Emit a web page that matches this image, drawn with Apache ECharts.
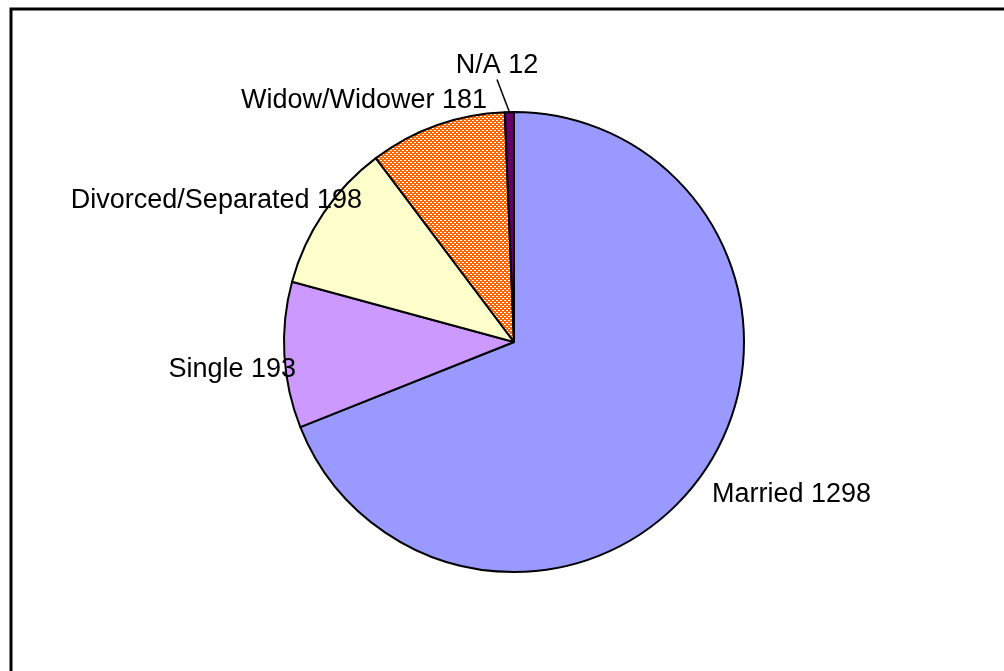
<!DOCTYPE html>
<html><head><meta charset="utf-8">
<script src="https://cdn.jsdelivr.net/npm/echarts@6/dist/echarts.min.js"></script>
<style>html,body{margin:0;padding:0;background:#fff;}#c{width:1004px;height:671px;}</style>
</head><body><div id="c"></div>
<script>
const categories = ["Married", "Single", "Divorced/Separated", "Widow/Widower", "N/A"];
const values = [1298, 193, 198, 181, 12];
const colors = ["#9999FF", "#CC99FF", "#FFFFCC", "pattern", "#660066"];
// label anchor positions (x, middle y) in pixels
const labelPos = [[712, 495, 'left'], [296, 370, 'right'], [362, 201, 'right'], [487, 101, 'right'], [497, 66, 'center']];

const tile = document.createElement('canvas');
tile.width = 4; tile.height = 4;
const tc = tile.getContext('2d');
tc.fillStyle = '#FF6600'; tc.fillRect(0, 0, 4, 4);
tc.fillStyle = '#FFFFFF';
tc.fillRect(0, 0, 1, 1); tc.fillRect(2, 2, 1, 1); tc.fillRect(1, 0, 1, 1); tc.fillRect(3, 2, 1, 1);

const chart = echarts.init(document.getElementById('c'));
const data = categories.map((n, i) => ({
  name: n, value: values[i],
  itemStyle: { color: colors[i] === 'pattern' ? { image: tile, repeat: 'repeat' } : colors[i] },
  labelLine: { show: i === 4 }
}));
chart.setOption({
  animation: false,
  graphic: [{ type: 'rect', shape: { x: 11, y: 9, width: 1010, height: 680 }, style: { fill: null, stroke: '#000', lineWidth: 3 } }],
  series: [{
    type: 'pie',
    center: [514, 342],
    radius: 230,
    startAngle: 90,
    clockwise: true,
    data: data,
    itemStyle: { borderColor: '#000', borderWidth: 2 },
    label: {
      show: true, position: 'outside',
      formatter: p => p.name + ' ' + p.value,
      color: '#000', fontFamily: 'Liberation Sans, Arial, sans-serif', fontSize: 27
    },
    labelLine: { show: true, length: 10, length2: 0, lineStyle: { color: '#000', width: 1.5 } },
    labelLayout: function (p) {
      const lp = labelPos[p.dataIndex];
      return { x: lp[0], y: lp[1], align: lp[2], verticalAlign: 'middle' };
    },
    emphasis: { disabled: true }
  }]
});
</script></body></html>
